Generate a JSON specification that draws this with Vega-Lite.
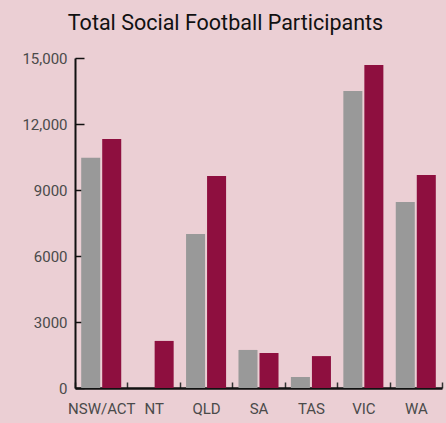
{
  "$schema": "https://vega.github.io/schema/vega-lite/v6.json",
  "autosize": "none",
  "width": 367,
  "height": 330,
  "padding": {"left": 75, "top": 58, "right": 4, "bottom": 35},
  "background": "#EBCFD4",
  "title": {"text": "Total Social Football Participants", "font": "Roboto", "fontSize": 21.5, "fontWeight": "normal", "color": "#111111", "anchor": "middle", "offset": 17, "dx": -33},
  "data": {"values": [
    {"state": "NSW/ACT", "series": "A", "value": 10470},
    {"state": "NSW/ACT", "series": "B", "value": 11320},
    {"state": "NT", "series": "A", "value": 0},
    {"state": "NT", "series": "B", "value": 2140},
    {"state": "QLD", "series": "A", "value": 7000},
    {"state": "QLD", "series": "B", "value": 9640},
    {"state": "SA", "series": "A", "value": 1730},
    {"state": "SA", "series": "B", "value": 1590},
    {"state": "TAS", "series": "A", "value": 500},
    {"state": "TAS", "series": "B", "value": 1450},
    {"state": "VIC", "series": "A", "value": 13500},
    {"state": "VIC", "series": "B", "value": 14680},
    {"state": "WA", "series": "A", "value": 8450},
    {"state": "WA", "series": "B", "value": 9680}
  ]},
  "mark": {"type": "bar"},
  "encoding": {
    "x": {"field": "state", "type": "nominal", "sort": null,
      "scale": {"paddingInner": 0, "paddingOuter": 0},
      "axis": {"title": null, "labelAngle": 0, "labelFont": "Roboto", "labelFontSize": 15, "labelColor": "#4a4a4a", "labelPadding": 19,
        "domainColor": "#111111", "domainWidth": 2.5, "tickBand": "extent", "tickSize": -6, "tickColor": "#333333", "tickWidth": 1.5}},
    "xOffset": {"field": "series", "type": "nominal", "scale": {"paddingInner": 0.095, "paddingOuter": 0.295}},
    "y": {"field": "value", "type": "quantitative",
      "scale": {"domain": [0, 15000]},
      "axis": {"title": null, "values": [0, 3000, 6000, 9000, 12000, 15000], "grid": false,
        "labelExpr": "datum.value >= 10000 ? format(datum.value, ',') : datum.value",
        "labelFont": "Roboto", "labelFontSize": 15, "labelColor": "#4a4a4a", "labelPadding": 17,
        "domainColor": "#111111", "domainWidth": 2, "tickSize": -9, "tickColor": "#111111", "tickWidth": 1.5}},
    "color": {"field": "series", "type": "nominal", "legend": null,
      "scale": {"domain": ["A", "B"], "range": ["#999999", "#8E0F3F"]}}
  },
  "config": {"view": {"stroke": null}}
}
